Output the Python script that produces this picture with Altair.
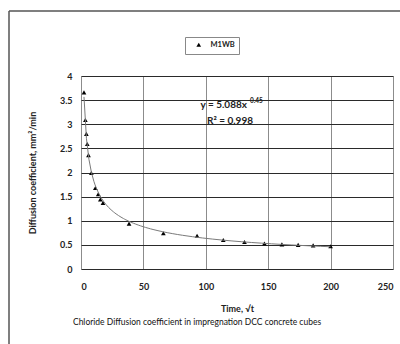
import altair as alt
import pandas as pd

# Data
time_sqrt = [2.4, 3.5, 4.3, 5.0, 6.0, 8.3, 11.5, 13.8, 15.5, 17.6,
             38.5, 66, 93, 114, 131, 147, 161, 174, 186, 200]
diffusion = [3.66, 3.09, 2.80, 2.59, 2.36, 1.99, 1.68, 1.55, 1.44, 1.37,
             0.94, 0.74, 0.69, 0.60, 0.56, 0.53, 0.51, 0.50, 0.49, 0.47]
series_name = "M1WB"
x_ticks = [0, 50, 100, 150, 200, 250]
y_ticks = [0, 0.5, 1, 1.5, 2, 2.5, 3, 3.5, 4]
eq_main = "y = 5.088x"
eq_sup = "-0.45"
eq_r2 = "R\u00b2 = 0.998"
eq_anchor_x = [133]
eq_anchor_y = [3.40, 3.07]
chart_title = "Chloride Diffusion coefficient in impregnation DCC concrete cubes"

FONT = "Lato"

df = pd.DataFrame({"t": time_sqrt, "d": diffusion, "series": series_name})

xs = alt.Scale(domain=[0, 250], nice=False)
ys = alt.Scale(domain=[0, 4], nice=False)

x_axis = alt.Axis(values=x_ticks, title="Time, \u221at", grid=True,
                  gridColor="#8c8c8c", gridWidth=1, tickSize=0,
                  domain=False, labelPadding=13, titlePadding=13,
                  labelFont=FONT, labelFontSize=9, labelFontWeight="bold",
                  labelColor="#222", titleFont=FONT, titleFontSize=9,
                  titleFontWeight="bold", titleColor="#222")
y_axis = alt.Axis(values=y_ticks, title="Diffusion coefficient, mm\u00b2/min",
                  grid=True, gridColor="#2a2a2a", gridWidth=1, tickSize=0,
                  domain=False, labelPadding=9, titlePadding=22,
                  labelOverlap=False, format="~g",
                  labelFont=FONT, labelFontSize=9, labelFontWeight="bold",
                  labelColor="#222", titleFont=FONT, titleFontSize=9,
                  titleFontWeight="bold", titleColor="#222")

X = lambda f: alt.X(f, scale=xs, axis=x_axis)
Y = lambda f: alt.Y(f, scale=ys, axis=y_axis)

base = alt.Chart(df)

points = base.mark_point(filled=True, size=22, color="#000000", opacity=1).encode(
    x=X("t:Q"),
    y=Y("d:Q"),
    shape=alt.Shape("series:N", scale=alt.Scale(range=["triangle-up"]),
                    legend=alt.Legend(title=None, orient="none", legendX=104, legendY=-39,
                                      strokeColor="#888", padding=4, symbolSize=22,
                                      symbolFillColor="#000", symbolStrokeColor="#000",
                                      labelFont=FONT, labelFontSize=7.5, labelFontWeight="bold",
                                      labelColor="#222", symbolOffset=6,
                                      labelOffset=8, offset=0)),
)

trend = base.mark_line(color="#7a7a7a", strokeWidth=1).transform_regression(
    "t", "d", method="pow"
).encode(x=X("t:Q"), y=Y("d:Q"))

eq1 = alt.Chart(pd.DataFrame({"x": eq_anchor_x, "y": eq_anchor_y[:1], "label": [eq_main]})).mark_text(
    align="right", baseline="middle", font=FONT, fontSize=10, fontWeight="bold", color="#222"
).encode(x=X("x:Q"), y=Y("y:Q"), text="label:N")
eq1s = alt.Chart(pd.DataFrame({"x": eq_anchor_x, "y": eq_anchor_y[:1], "label": [eq_sup]})).mark_text(
    align="left", baseline="middle", font=FONT, fontSize=6.5, fontWeight="bold", color="#222", dy=-4, dx=0.5
).encode(x=X("x:Q"), y=Y("y:Q"), text="label:N")
eq2 = alt.Chart(pd.DataFrame({"x": eq_anchor_x, "y": eq_anchor_y[1:], "label": [eq_r2]})).mark_text(
    align="center", baseline="middle", font=FONT, fontSize=10, fontWeight="bold", color="#222", dx=-17
).encode(x=X("x:Q"), y=Y("y:Q"), text="label:N")

frame = pd.DataFrame({"k": [0], "title": [chart_title]})
left_border = alt.Chart(frame).mark_rule(color="#555", strokeWidth=1.5).encode(
    x=alt.value(-72), y=alt.value(-65), y2=alt.value(268))
top_border = alt.Chart(frame).mark_rule(color="#555", strokeWidth=1.5).encode(
    x=alt.value(-72), x2=alt.value(319), y=alt.value(-65))
title_text = alt.Chart(frame).mark_text(
    align="center", baseline="middle", font=FONT, fontSize=8.5, color="#111"
).encode(x=alt.value(116), y=alt.value(246), text="title:N")

chart = alt.layer(points, trend, eq1, eq1s, eq2, left_border, top_border, title_text).properties(
    width=312, height=193,
    autosize=alt.AutoSizeParams(type="none"),
    padding={"left": 81, "top": 76, "right": 7, "bottom": 75},
).configure_view(stroke="#888", strokeWidth=1).configure(background="white")

chart.save("out.html", embed_options={"renderer": "svg", "actions": False})
